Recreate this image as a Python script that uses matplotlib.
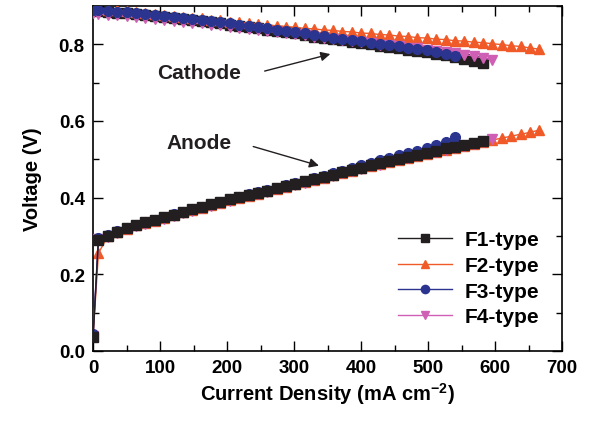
import matplotlib

matplotlib.use("Agg")

import matplotlib.pyplot as plt
from matplotlib.ticker import MultipleLocator, FormatStrFormatter

# current density (mA cm-2), shared sampling points
current = [0, 8, 22, 36, 50, 64, 78, 92, 106, 120, 134, 148, 162, 176, 190, 204,
           218, 232, 246, 260, 274, 288, 302, 316, 330, 344, 358, 372, 386, 400,
           414, 428, 442, 456, 470, 484, 498, 512, 526, 540, 554, 568, 582, 596,
           610, 624, 638, 652, 666]

# cathode potentials (V)
f1_cathode = [0.888, 0.887, 0.885, 0.882, 0.880, 0.878, 0.876, 0.873, 0.871, 0.868,
              0.865, 0.862, 0.860, 0.857, 0.854, 0.851, 0.848, 0.844, 0.841, 0.838,
              0.834, 0.831, 0.828, 0.824, 0.820, 0.817, 0.813, 0.810, 0.806, 0.803,
              0.800, 0.796, 0.793, 0.789, 0.786, 0.783, 0.779, 0.775, 0.771, 0.766,
              0.762, 0.757, 0.752]
f2_cathode = [0.893, 0.892, 0.890, 0.888, 0.886, 0.884, 0.882, 0.879, 0.877, 0.874,
              0.872, 0.869, 0.867, 0.864, 0.862, 0.859, 0.857, 0.855, 0.853, 0.850,
              0.848, 0.846, 0.844, 0.841, 0.840, 0.837, 0.836, 0.833, 0.832, 0.829,
              0.828, 0.825, 0.824, 0.821, 0.820, 0.817, 0.816, 0.813, 0.812, 0.809,
              0.808, 0.805, 0.804, 0.801, 0.799, 0.796, 0.794, 0.790, 0.787]
f3_cathode = [0.890, 0.889, 0.887, 0.885, 0.883, 0.881, 0.879, 0.876, 0.874, 0.871,
              0.868, 0.866, 0.863, 0.860, 0.857, 0.854, 0.851, 0.848, 0.845, 0.841,
              0.838, 0.835, 0.831, 0.828, 0.824, 0.821, 0.817, 0.814, 0.810, 0.807,
              0.804, 0.800, 0.797, 0.794, 0.790, 0.787, 0.784, 0.780, 0.775, 0.770]
f4_cathode = [0.880, 0.879, 0.877, 0.875, 0.873, 0.871, 0.869, 0.866, 0.864, 0.861,
              0.859, 0.856, 0.854, 0.851, 0.849, 0.846, 0.843, 0.840, 0.837, 0.834,
              0.831, 0.828, 0.826, 0.823, 0.820, 0.817, 0.814, 0.811, 0.808, 0.805,
              0.802, 0.799, 0.797, 0.794, 0.791, 0.789, 0.786, 0.783, 0.780, 0.777,
              0.773, 0.769, 0.764, 0.759]

# anode potentials (V)
f1_anode = [0.035, 0.290, 0.300, 0.311, 0.320, 0.328, 0.335, 0.341, 0.348, 0.355,
            0.362, 0.369, 0.375, 0.382, 0.388, 0.395, 0.401, 0.407, 0.412, 0.418,
            0.424, 0.430, 0.436, 0.442, 0.448, 0.454, 0.460, 0.466, 0.472, 0.478,
            0.484, 0.489, 0.495, 0.500, 0.506, 0.511, 0.517, 0.522, 0.528, 0.533,
            0.538, 0.543, 0.548]
f2_anode = [0.040, 0.255, 0.299, 0.310, 0.319, 0.327, 0.334, 0.340, 0.347, 0.354,
            0.361, 0.367, 0.373, 0.380, 0.386, 0.393, 0.399, 0.405, 0.410, 0.416,
            0.422, 0.428, 0.434, 0.440, 0.446, 0.452, 0.458, 0.464, 0.470, 0.476,
            0.481, 0.487, 0.492, 0.498, 0.503, 0.509, 0.514, 0.520, 0.525, 0.530,
            0.535, 0.540, 0.545, 0.550, 0.555, 0.560, 0.565, 0.570, 0.576]
f3_anode = [0.045, 0.295, 0.302, 0.312, 0.321, 0.329, 0.336, 0.342, 0.349, 0.356,
            0.363, 0.370, 0.376, 0.383, 0.389, 0.396, 0.402, 0.408, 0.414, 0.420,
            0.426, 0.432, 0.438, 0.444, 0.451, 0.457, 0.464, 0.470, 0.477, 0.484,
            0.490, 0.497, 0.503, 0.510, 0.516, 0.522, 0.529, 0.537, 0.546, 0.558]
f4_anode = [0.040, 0.292, 0.298, 0.308, 0.317, 0.325, 0.332, 0.338, 0.345, 0.352,
            0.359, 0.366, 0.372, 0.379, 0.385, 0.392, 0.398, 0.404, 0.409, 0.415,
            0.421, 0.427, 0.433, 0.439, 0.445, 0.451, 0.457, 0.463, 0.469, 0.475,
            0.481, 0.486, 0.492, 0.497, 0.503, 0.508, 0.514, 0.519, 0.525, 0.530,
            0.535, 0.540, 0.546, 0.553]

labels = ["F1-type", "F2-type", "F3-type", "F4-type"]

plt.rcParams.update({
    "font.family": ["Liberation Sans", "DejaVu Sans"],
    "font.weight": "bold",
    "axes.linewidth": 1.2,
    "mathtext.fontset": "custom",
    "mathtext.rm": "Liberation Sans:bold",
    "mathtext.bf": "Liberation Sans:bold",
    "mathtext.default": "bf",
})

fig = plt.figure(figsize=(5.93, 4.27), dpi=100)
ax = fig.add_axes([0.157, 0.176, 0.791, 0.808])

styles = [
    dict(color="#231F20", marker="s", ms=6.5),
    dict(color="#F05A28", marker="^", ms=7.5),
    dict(color="#2B3590", marker="o", ms=7.0),
    dict(color="#CF5FB4", marker="v", ms=7.5),
]
cathodes = [f1_cathode, f2_cathode, f3_cathode, f4_cathode]
anodes = [f1_anode, f2_anode, f3_anode, f4_anode]
cath_z = [2, 3, 5, 4]
anode_z = [5, 2, 4, 3]

for i, lab in enumerate(labels):
    st = styles[i]
    n = len(cathodes[i])
    ax.plot(current[:n], cathodes[i], color=st["color"], marker=st["marker"],
            ms=st["ms"], lw=1.0, mec=st["color"], zorder=cath_z[i], label=lab)
    n = len(anodes[i])
    ax.plot(current[:n], anodes[i], color=st["color"], marker=st["marker"],
            ms=st["ms"], lw=1.0, mec=st["color"], zorder=anode_z[i])

ax.set_xlim(0, 700)
ax.set_ylim(0, 0.9)
ax.xaxis.set_major_locator(MultipleLocator(100))
ax.xaxis.set_minor_locator(MultipleLocator(50))
ax.yaxis.set_major_locator(MultipleLocator(0.2))
ax.yaxis.set_minor_locator(MultipleLocator(0.1))
ax.yaxis.set_major_formatter(FormatStrFormatter("%.1f"))
ax.tick_params(which="both", direction="in", top=True, right=True,
               labelsize=13.5, width=1.0, pad=6)
ax.tick_params(which="major", length=7)
ax.tick_params(which="minor", length=4)
for t in ax.get_xticklabels() + ax.get_yticklabels():
    t.set_fontweight("bold")

ax.set_xlabel("Current Density (mA cm$^{-2}$)", fontsize=14.5,
              fontweight="bold", labelpad=3)
ax.set_ylabel("Voltage (V)", fontsize=14.5, fontweight="bold", labelpad=12)

ax.annotate("", xy=(358, 0.776), xytext=(252, 0.728),
            arrowprops=dict(arrowstyle="-|>", color="#231F20", lw=1.0,
                            mutation_scale=14))
ax.text(158, 0.727, "Cathode", ha="center", va="center", fontsize=15,
        fontweight="bold", color="#231F20")
ax.annotate("", xy=(341, 0.481), xytext=(235, 0.535),
            arrowprops=dict(arrowstyle="-|>", color="#231F20", lw=1.0,
                            mutation_scale=14))
ax.text(158, 0.543, "Anode", ha="center", va="center", fontsize=15,
        fontweight="bold", color="#231F20")

leg = ax.legend(loc="lower right", bbox_to_anchor=(0.978, 0.035), frameon=False,
                fontsize=15, handlelength=2.6, labelspacing=0.32,
                handletextpad=0.6, borderaxespad=0.2, markerscale=0.85)
for t in leg.get_texts():
    t.set_fontweight("bold")

fig.savefig("out.png", dpi=100)
plt.close(fig)
